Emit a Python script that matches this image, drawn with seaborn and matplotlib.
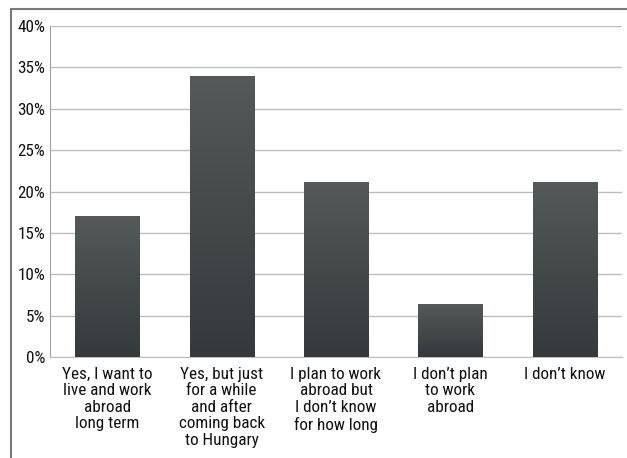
import matplotlib
matplotlib.use("Agg")
import matplotlib.pyplot as plt
import seaborn as sns
import numpy as np
import pandas as pd
from matplotlib.patches import Rectangle
from matplotlib.ticker import FuncFormatter, MultipleLocator
from matplotlib.colors import LinearSegmentedColormap
from matplotlib import font_manager

categories = [
    "Yes, I want to\nlive and work\nabroad\nlong term",
    "Yes, but just\nfor a while\nand after\ncoming back\nto Hungary",
    "I plan to work\nabroad but\nI don\u2019t know\nfor how long",
    "I don\u2019t plan\nto work\nabroad",
    "I don\u2019t know",
]
values = [17.0, 34.0, 21.2, 6.4, 21.2]

df = pd.DataFrame({"cat": categories, "val": values})

sns.set_style("white")
names = {f.name for f in font_manager.fontManager.ttflist}
prefs = ["Arial Narrow", "Liberation Sans Narrow", "Roboto Condensed",
         "PT Sans Narrow", "Archivo Narrow", "Liberation Sans"]
chosen = next(n for n in prefs if n in names)
plt.rcParams["font.family"] = [chosen, "DejaVu Sans"]
fs = 11 if chosen == "Liberation Sans" else 12.3

fig = plt.figure(figsize=(6.27, 4.58), dpi=100)
W, H = 627, 458
ax = fig.add_axes([50 / W, 1 - 357 / H, (622 - 50) / W, (357 - 26) / H])

sns.barplot(data=df, x="cat", y="val", color="#45494b", width=0.56, ax=ax,
            edgecolor="none", zorder=3)

grad = np.linspace(0, 1, 256).reshape(-1, 1)
cmap = LinearSegmentedColormap.from_list("g", ["#36393b", "#555959"])
for p in ax.patches:
    x0, y0 = p.get_x(), p.get_y()
    w, h = p.get_width(), p.get_height()
    im = ax.imshow(grad, extent=[x0, x0 + w, y0, y0 + h], origin="lower",
                   aspect="auto", cmap=cmap, zorder=4)
    im.set_clip_path(p)

ax.set_xlim(-0.5, 4.5)
ax.set_ylim(0, 40)
ax.yaxis.set_major_locator(MultipleLocator(5))
ax.yaxis.set_major_formatter(FuncFormatter(lambda v, _: f"{int(v)}%"))
ax.grid(axis="y", color="#bdbdbd", linewidth=1.0, zorder=0)
ax.set_axisbelow(True)
ax.set_xlabel("")
ax.set_ylabel("")
for s in ["top", "right"]:
    ax.spines[s].set_visible(False)
ax.spines["left"].set_color("#a0a0a0")
ax.spines["bottom"].set_color("#bdbdbd")
ax.tick_params(axis="both", length=0, labelsize=fs, colors="#111111")
ax.tick_params(axis="y", pad=3.5)
ax.tick_params(axis="x", pad=7)
for lab in ax.get_xticklabels():
    lab.set_linespacing(1.13)
    lab.set_va("top")

fig.add_artist(Rectangle((11 / W, -0.1), 1.2, 1 - 9.5 / H + 0.1,
                         transform=fig.transFigure, fill=False,
                         edgecolor="#7a7a7a", linewidth=1.5))

fig.savefig("out.png", dpi=100)
